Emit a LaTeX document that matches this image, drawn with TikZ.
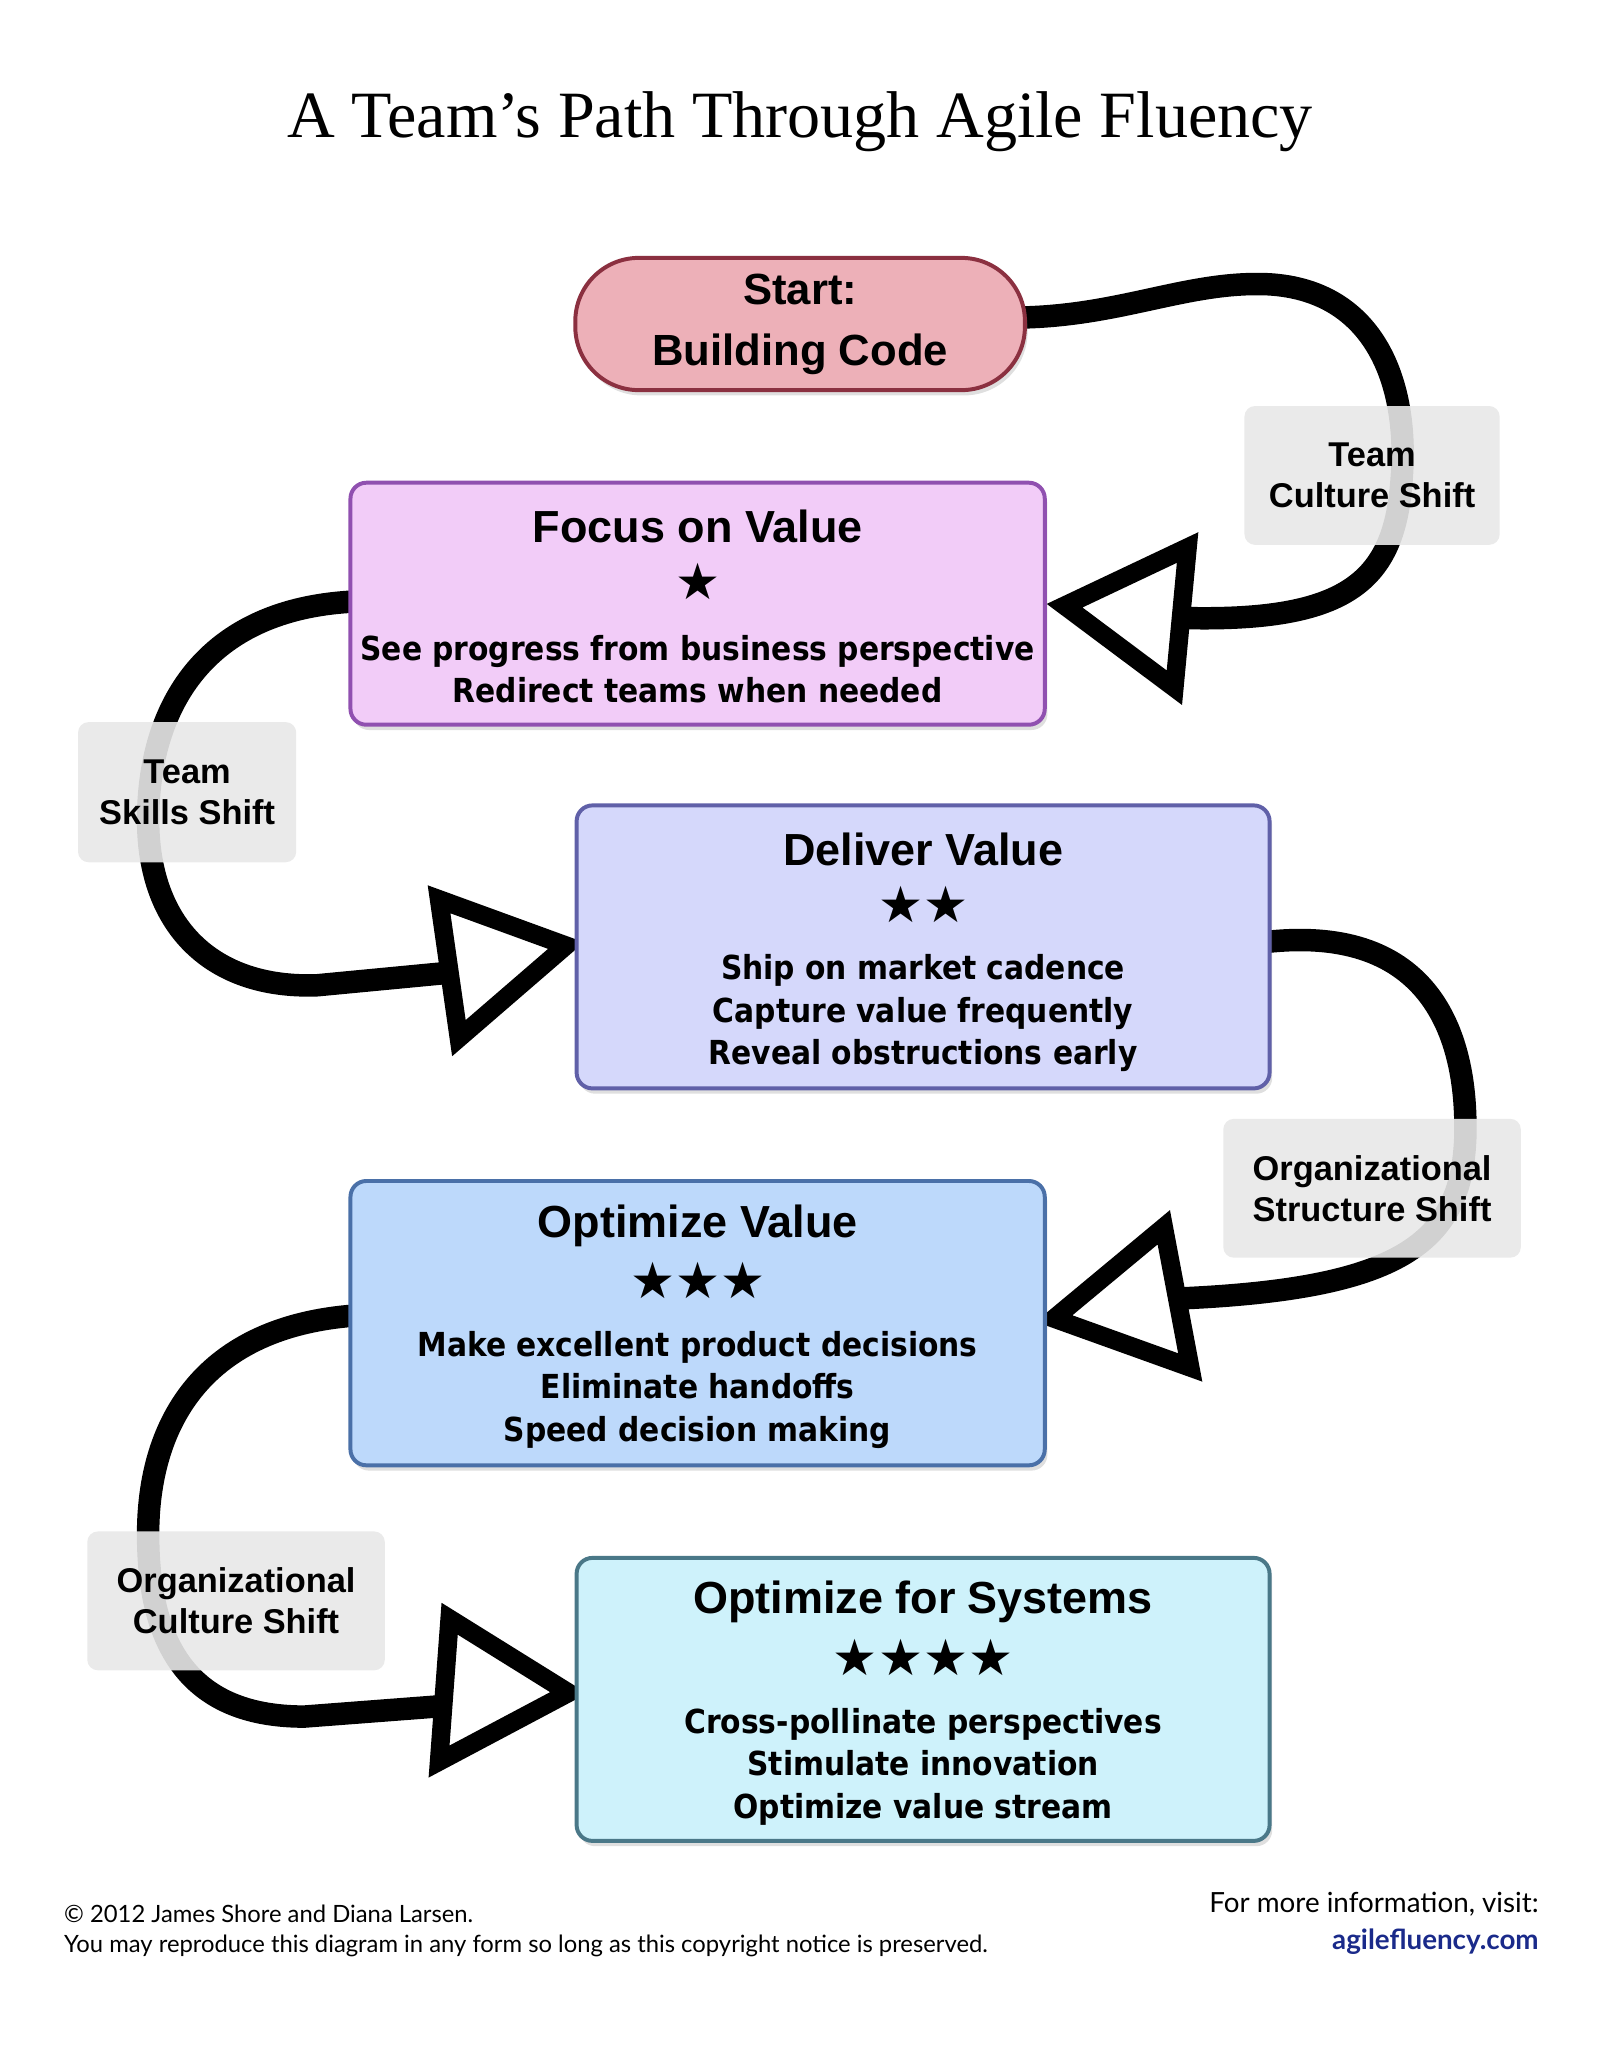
\documentclass[tikz,border=0pt]{standalone}
\usepackage{fontspec}
\setmainfont{Liberation Sans}
\newfontfamily\cond{DejaVu Sans Condensed}
\newfontfamily\djsym{DejaVu Sans}
\newfontfamily\lato{Lato}
\newfontfamily\serifT{Liberation Serif}
\usetikzlibrary{shadows}
\definecolor{pinkF}{HTML}{EDB0B8}\definecolor{pinkD}{HTML}{8B3040}
\definecolor{vioF}{HTML}{F2CCF8}\definecolor{vioD}{HTML}{9050B0}
\definecolor{lavF}{HTML}{D5D8FB}\definecolor{lavD}{HTML}{6060A8}
\definecolor{bluF}{HTML}{BDD9FB}\definecolor{bluD}{HTML}{4A70A8}
\definecolor{cyaF}{HTML}{CEF2FB}\definecolor{cyaD}{HTML}{4A7888}
\definecolor{navy}{HTML}{1A2A8A}
\tikzset{
 conn/.style={line width=17pt,black},
 tri/.style={line width=14pt,black,fill=white,line join=miter},
 box/.style={draw,line width=3pt,rounded corners=12pt,drop shadow={opacity=0.25,shadow xshift=2pt,shadow yshift=-4pt}},
 lab/.style={fill=gray!18,fill opacity=0.9,text opacity=1,rounded corners=8pt,align=center,font=\bfseries\fontsize{26}{31}\selectfont},
 ttl/.style={font=\bfseries\fontsize{34}{40}\selectfont},
 star/.style={font=\djsym\fontsize{38}{40}\selectfont},
 body/.style={align=center,font=\cond\bfseries\fontsize{25}{32}\selectfont}
}
\begin{document}
\begin{tikzpicture}[x=1pt,y=-1pt]
\useasboundingbox (0,0) rectangle (1210,1566);
\node (title) at (605,92) {\serifT\fontsize{50}{56}\selectfont A Team’s Path Through Agile Fluency};
% connectors
\coordinate (a1) at (775,240); \coordinate (a2) at (885,467);
\draw[conn] (a1) .. controls (850,238) and (900,212) .. (960,215) .. controls (1040,220) and (1065,290) .. (1060,360) .. controls (1055,440) and (1020,472) .. (a2);
\coordinate (b1) at (265,455); \coordinate (b2) at (345,735);
\draw[conn] (b1) .. controls (150,462) and (112,540) .. (112,620) .. controls (112,700) and (160,748) .. (240,745) -- (b2);
\coordinate (c1) at (960,712); \coordinate (c2) at (888,982);
\draw[conn] (c1) .. controls (1080,700) and (1110,780) .. (1108,860) .. controls (1105,940) and (1060,975) .. (c2);
\coordinate (d1) at (265,995); \coordinate (d2) at (335,1290);
\draw[conn] (d1) .. controls (150,1005) and (112,1080) .. (112,1160) .. controls (112,1240) and (140,1298) .. (230,1298) -- (d2);
\draw[tri] (805,458) -- (898,414) -- (888,520) -- cycle;
\draw[tri] (428,715) -- (332,680) -- (347,785) -- cycle;
\draw[tri] (797,997) -- (880,928) -- (900,1034) -- cycle;
\draw[tri] (430,1280) -- (340,1224) -- (332,1332) -- cycle;
% boxes
\node[box,fill=pinkF,draw=pinkD,rounded corners=48pt,minimum width=340pt,minimum height=100pt,align=center,font=\bfseries\fontsize{33}{46}\selectfont] (start) at (605,245) {Start:\\Building Code};
\node[box,fill=vioF,draw=vioD,minimum width=525pt,minimum height=183pt] (focus) at (527.5,456.5) {};
\node[ttl] at (527.5,398) {Focus on Value};
\node[star] at (527.5,440) {★};
\node[body] at (527.5,506) {See progress from business perspective\\Redirect teams when needed};
\node[box,fill=lavF,draw=lavD,minimum width=524pt,minimum height=214pt] (deliver) at (698,716) {};
\node[ttl] at (698,642) {Deliver Value};
\node[star] at (698,684) {★★};
\node[body] at (698,766) {Ship on market cadence\\Capture value frequently\\Reveal obstructions early};
\node[box,fill=bluF,draw=bluD,minimum width=525pt,minimum height=215pt] (optv) at (527.5,1000.5) {};
\node[ttl] at (527.5,927) {Optimize Value};
\node[star] at (527.5,968) {★★★};
\node[body] at (527.5,1051) {Make excellent product decisions\\Eliminate handoffs\\Speed decision making};
\node[box,fill=cyaF,draw=cyaD,minimum width=524pt,minimum height=214pt] (sys) at (698,1285) {};
\node[ttl] at (698,1211) {Optimize for Systems};
\node[star] at (698,1253) {★★★★};
\node[body] at (698,1336) {Cross-pollinate perspectives\\Stimulate innovation\\Optimize value stream};
% labels
\node[lab,minimum width=193pt,minimum height=105pt] (l1) at (1037.5,359.5) {Team\\Culture Shift};
\node[lab,minimum width=165pt,minimum height=106pt] (l2) at (141.5,599) {Team\\Skills Shift};
\node[lab,minimum width=225pt,minimum height=105pt] (l3) at (1037.5,898.5) {Organizational\\Structure Shift};
\node[lab,minimum width=225pt,minimum height=105pt] (l4) at (178.5,1210.5) {Organizational\\Culture Shift};
% footer
\node[anchor=west,align=left,font=\lato\fontsize{18}{23}\selectfont] (copy) at (45,1460) {© 2012 James Shore and Diana Larsen.\\You may reproduce this diagram in any form so long as this copyright notice is preserved.};
\node[anchor=east,align=right,font=\lato\fontsize{21}{28}\selectfont] (info) at (1167,1454) {For more information, visit:\\\textcolor{navy}{\bfseries agilefluency.com}};
\end{tikzpicture}
\end{document}
